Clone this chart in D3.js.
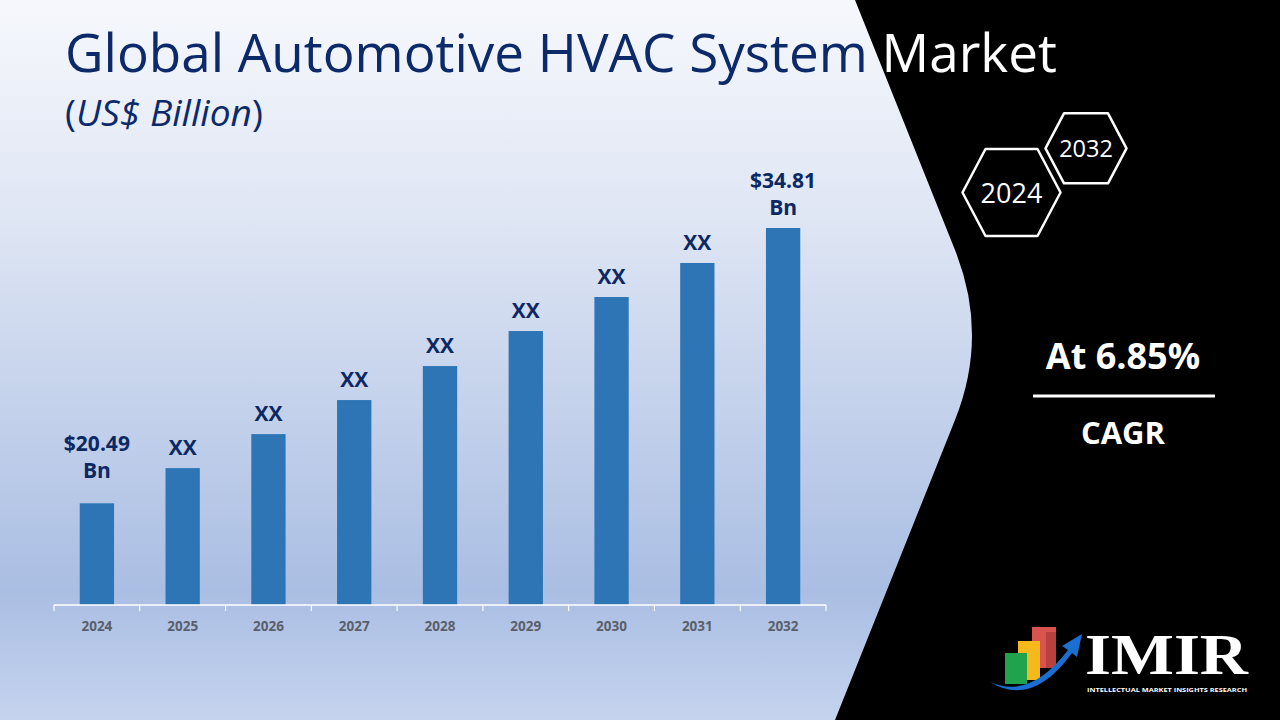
<!DOCTYPE html>
<html>
<head>
<meta charset="utf-8">
<script src="https://cdn.jsdelivr.net/npm/d3@7"></script>
<style>
  html, body { margin: 0; padding: 0; background: #fff; }
  svg { display: block; font-family: "Open Sans", "DejaVu Sans", sans-serif; }
</style>
</head>
<body>
<div id="chart"></div>
<script>
// data
var years = ["2024", "2025", "2026", "2027", "2028", "2029", "2030", "2031", "2032"];
var values = [20.49, 22.32, 24.09, 25.86, 27.63, 29.45, 31.22, 32.99, 34.81];
var valueLabels = ["$20.49|Bn", "XX", "XX", "XX", "XX", "XX", "XX", "XX", "$34.81|Bn"];
var titleText = "Global Automotive HVAC System Market";
var startYear = "2024", endYear = "2032";
var cagrText = "At 6.85%";

var W = 1280, H = 720;
var svg = d3.select("#chart").append("svg").attr("width", W).attr("height", H);
var defs = svg.append("defs");

var bg = defs.append("linearGradient").attr("id", "bgGrad")
    .attr("x1", 0).attr("y1", 0).attr("x2", 0).attr("y2", 1);
bg.append("stop").attr("offset", "0%").attr("stop-color", "#f6f8fc");
bg.append("stop").attr("offset", "30%").attr("stop-color", "#dfe6f4");
bg.append("stop").attr("offset", "82%").attr("stop-color", "#aabee3");
bg.append("stop").attr("offset", "100%").attr("stop-color", "#c5d3ee");

var darkPath = "M855,0 L1280,0 L1280,720 L835,720 L955,420 Q989,335 955,250 Z";
var lightPath = "M0,0 L855,0 L955,250 Q989,335 955,420 L835,720 L0,720 Z";
defs.append("clipPath").attr("id", "lightClip").append("path").attr("d", lightPath);
defs.append("clipPath").attr("id", "darkClip").append("path").attr("d", darkPath);

svg.append("rect").attr("width", W).attr("height", H).attr("fill", "url(#bgGrad)");
svg.append("path").attr("d", darkPath).attr("fill", "#000");

// title, navy on light side and white on black side
function drawTitle(clip, color) {
  var t = svg.append("text")
      .attr("clip-path", "url(#" + clip + ")")
      .attr("x", 65).attr("y", 72)
      .attr("fill", color)
      .attr("font-size", 46)
      .text(titleText);
  var len = t.node().getComputedTextLength();
  t.attr("font-size", 46 * 992 / len);
}
drawTitle("lightClip", "#0c2a6a");
drawTitle("darkClip", "#ffffff");

var sub = svg.append("text").attr("x", 65).attr("y", 126)
    .attr("fill", "#0c2a6a").attr("font-size", 30);
sub.append("tspan").text("(");
sub.append("tspan").attr("font-style", "italic").text("US$ Billion");
sub.append("tspan").text(")");
var subLen = sub.node().getComputedTextLength();
sub.attr("font-size", 30 * 198 / subLen);

// chart
var x = d3.scaleBand()
    .domain(years)
    .range([54, 826])
    .paddingInner(0.6)
    .paddingOuter(0.3);

var y = d3.scaleLinear()
    .domain([15.2, 34.81])
    .range([605, 228]);

var g = svg.append("g");

g.selectAll(".bar")
  .data(values)
  .enter().append("rect")
    .attr("class", "bar")
    .attr("x", function(d, i) { return x(years[i]); })
    .attr("y", function(d) { return y(d); })
    .attr("width", x.bandwidth())
    .attr("height", function(d) { return y.range()[0] - y(d); })
    .attr("fill", "#2e75b6");

var lbl = g.selectAll(".lbl")
  .data(values)
  .enter().append("text")
    .attr("class", "lbl")
    .attr("text-anchor", "middle")
    .attr("font-size", 21)
    .attr("font-weight", "bold")
    .attr("fill", "#0c2862");

lbl.each(function(d, i) {
  var parts = valueLabels[i].split("|");
  var cx = x(years[i]) + x.bandwidth() / 2;
  var extra = i === 0 ? 12 : 0;
  var base = y(d) - 13 - extra - (parts.length - 1) * 27;
  var t = d3.select(this);
  parts.forEach(function(p, k) {
    t.append("tspan").attr("x", cx).attr("y", base + k * 27).text(p);
  });
});

// axis: line with ticks at band boundaries
var axis = g.append("g").attr("transform", "translate(0,605)");
axis.call(d3.axisBottom(x).tickSize(0).tickPadding(16))
    .call(function(a) { a.select(".domain").remove(); });
axis.selectAll(".tick text")
    .attr("font-family", "'Open Sans', sans-serif")
    .attr("font-size", 13.5)
    .attr("font-weight", "bold")
    .attr("fill", "#5a5f6b");
axis.append("line").attr("x1", 54).attr("x2", 826)
    .attr("stroke", "#ffffff").attr("stroke-width", 1.5);
var bounds = years.map(function(d) { return x(d) - x.step() * x.paddingInner() / 2; });
bounds.push(826);
axis.selectAll(".bnd").data(bounds).enter().append("line")
    .attr("class", "bnd")
    .attr("x1", function(d) { return d; }).attr("x2", function(d) { return d; })
    .attr("y1", 0).attr("y2", 6)
    .attr("stroke", "#ffffff").attr("stroke-width", 1.2);

// hexagons
function hexagon(cx, cy, w, f, h, label, fs) {
  var pts = [[cx - w, cy], [cx - f, cy - h], [cx + f, cy - h], [cx + w, cy], [cx + f, cy + h], [cx - f, cy + h]];
  svg.append("path")
    .attr("d", d3.line().curve(d3.curveLinearClosed)(pts))
    .attr("fill", "#000").attr("stroke", "#ffffff")
    .attr("stroke-width", 2.5).attr("stroke-linejoin", "round");
  svg.append("text").attr("x", cx).attr("y", cy)
    .attr("text-anchor", "middle").attr("dominant-baseline", "central")
    .attr("fill", "#ffffff").attr("font-size", fs).text(label);
}
hexagon(1011.5, 192.5, 49, 26, 43.5, startYear, 27);
hexagon(1086, 148.3, 40.5, 22, 35, endYear, 23.5);

// CAGR
svg.append("text").attr("x", 1123).attr("y", 369)
    .attr("text-anchor", "middle").attr("fill", "#fff")
    .attr("font-size", 36).attr("font-weight", "bold").text(cagrText);
svg.append("line").attr("x1", 1033).attr("x2", 1215).attr("y1", 396).attr("y2", 396)
    .attr("stroke", "#ffffff").attr("stroke-width", 3);
svg.append("text").attr("x", 1123).attr("y", 444)
    .attr("text-anchor", "middle").attr("fill", "#fff")
    .attr("font-size", 31).attr("font-weight", "bold").text("CAGR");

// logo
var logo = svg.append("g");
logo.append("rect").attr("x", 1032).attr("y", 627).attr("width", 24).attr("height", 41).attr("fill", "#d9534f");
logo.append("rect").attr("x", 1046).attr("y", 632).attr("width", 10).attr("height", 36).attr("fill", "#b8403d");
logo.append("rect").attr("x", 1018).attr("y", 641).attr("width", 22).attr("height", 39).attr("fill", "#f6b91c");
logo.append("rect").attr("x", 1005).attr("y", 653).attr("width", 22).attr("height", 31).attr("fill", "#21a34d");
logo.append("path")
  .attr("d", "M990,682 Q1030,700 1068,650 L1062,646 L1082,634 L1077,657 L1072,653 Q1032,708 990,682 Z")
  .attr("fill", "#1a6fd0");
logo.append("text").attr("x", 1085).attr("y", 674)
  .attr("font-family", "'Liberation Serif', 'DejaVu Serif', serif")
  .attr("font-weight", "bold").attr("font-size", 57).attr("fill", "#fff")
  .attr("textLength", 163).attr("lengthAdjust", "spacingAndGlyphs")
  .text("IMIR");
logo.append("text").attr("x", 1087).attr("y", 692)
  .attr("font-weight", "bold").attr("font-size", 6).attr("fill", "#fff")
  .attr("textLength", 160).attr("lengthAdjust", "spacingAndGlyphs")
  .text("INTELLECTUAL MARKET INSIGHTS RESEARCH");
</script>
</body>
</html>
